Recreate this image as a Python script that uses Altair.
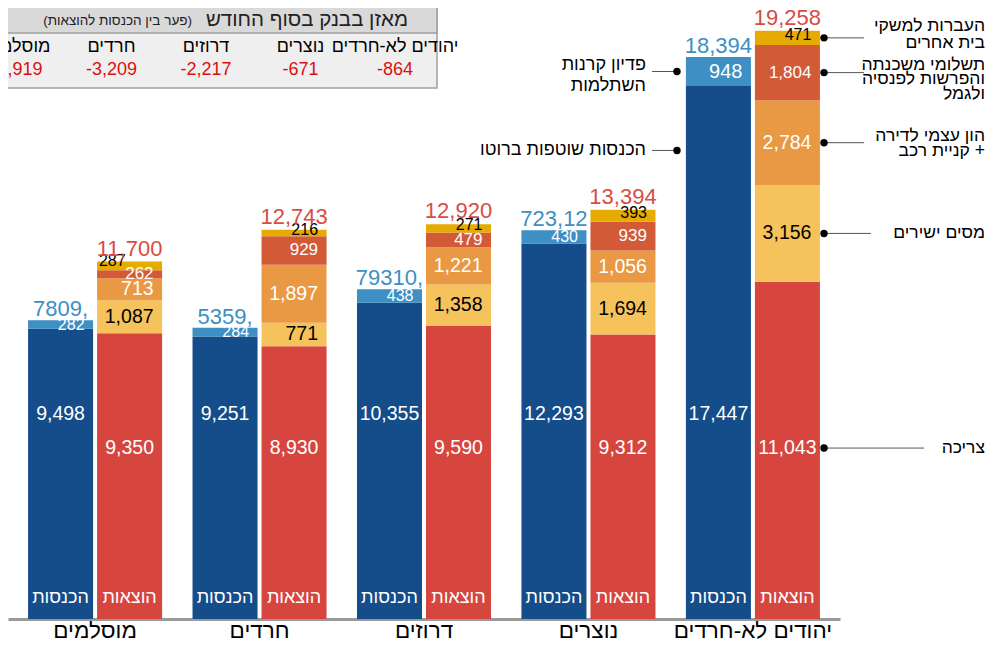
import altair as alt
import pandas as pd

# ---------------- data ----------------
groups = ["מוסלמים", "חרדים", "דרוזים", "נוצרים", "יהודים לא-חרדים"]
sides = ["הכנסות", "הוצאות"]
categories = [
    "הכנסות שוטפות ברוטו",
    "פדיון קרנות השתלמות",
    "צריכה",
    "מסים ישירים",
    "הון עצמי לדירה + קניית רכב",
    "תשלומי משכנתה והפרשות לפנסיה וגמל",
    "העברות למשקי בית אחרים",
]
income_gross = [9498, 9251, 10355, 12293, 17447]
income_funds = [282, 284, 438, 430, 948]
exp_consumption = [9350, 8930, 9590, 9312, 11043]
exp_taxes = [1087, 771, 1358, 1694, 3156]
exp_equity = [713, 1897, 1221, 1056, 2784]
exp_mortgage = [262, 929, 479, 939, 1804]
exp_transfers = [287, 216, 271, 393, 471]
income_total_text = ["7809,", "5359,", "79310,", "723,12", "18,394"]
expense_total_text = ["11,700", "12,743", "12,920", "13,394", "19,258"]
balance_text = ["-1,919", "-3,209", "-2,217", "-671", "-864"]
table_title = "מאזן בבנק בסוף החודש"
table_subtitle = "(פער בין הכנסות להוצאות)"
colors = ["#154c8a", "#3d8fc4", "#d6463f", "#f6c25c", "#e99843", "#d25a37", "#e6ab00"]

series = [
    (0, sides[0], income_gross),
    (1, sides[0], income_funds),
    (2, sides[1], exp_consumption),
    (3, sides[1], exp_taxes),
    (4, sides[1], exp_equity),
    (5, sides[1], exp_mortgage),
    (6, sides[1], exp_transfers),
]
rows = []
for order, side, vals in series:
    for g, v in zip(groups, vals):
        rows.append({"group": g, "side": side, "category": categories[order],
                     "order": order, "value": v, "label": f"{v:,}"})
df = pd.DataFrame(rows)

tot_rows = []
for i, g in enumerate(groups):
    tot_rows.append({"group": g, "side": sides[0],
                     "total": income_gross[i] + income_funds[i], "text": income_total_text[i]})
    tot_rows.append({"group": g, "side": sides[1],
                     "total": exp_consumption[i] + exp_taxes[i] + exp_equity[i] + exp_mortgage[i] + exp_transfers[i],
                     "text": expense_total_text[i]})
totals = pd.DataFrame(tot_rows)

# ---------------- layout ----------------
FONT = "Liberation Sans"
W, H = 832, 611
YS = alt.Scale(domain=[0, 20000], nice=False, zero=True)
XSCALE = alt.Scale(domain=groups, paddingInner=0.185, paddingOuter=0.122)
AXIS = alt.Axis(title=None, labelFontSize=22.5, labelColor="black", labelAngle=0, ticks=False,
                domainColor="#9a9a9a", domainWidth=3, labelPadding=0, labelFont=FONT, grid=False)
BASE_LABEL_Y = {sides[0]: 6720, sides[1]: 5595}   # fixed label heights, value units
SIDE_LABEL_Y = 680


def X():
    return alt.X("group:N", sort=groups, scale=XSCALE, axis=AXIS, title=None)


XO = alt.XOffset("side:N", sort=sides, scale=alt.Scale(domain=sides, paddingInner=0.058, paddingOuter=0))

base = alt.Chart(df).transform_stack(
    stack="value", groupby=["group", "side"], as_=["v0", "v1"],
    sort=[alt.SortField(field="order", order="ascending")],
).transform_calculate(mid="(datum.v0 + datum.v1) / 2")

bars = base.mark_bar().encode(
    x=X(), xOffset=XO,
    y=alt.Y("v0:Q", scale=YS, axis=None), y2="v1:Q",
    color=alt.Color("category:N", scale=alt.Scale(domain=categories, range=colors), legend=None),
)


def seg_labels(filt, color, size, dx=24, dy=0, align="right", yfield="mid"):
    return base.transform_filter(filt).mark_text(
        align=align, baseline="middle", dx=dx, dy=dy, color=color, fontSize=size, font=FONT
    ).encode(x=X(), xOffset=XO, y=alt.Y(yfield + ":Q", scale=YS, axis=None), text="label:N")


muslim = "datum.group === '" + groups[0] + "'"
labels = [
    seg_labels("datum.order === 0", "white", 19.5, dx=0, align="center", yfield="fixy").transform_calculate(
        fixy=str(BASE_LABEL_Y[sides[0]])),
    seg_labels("datum.order === 2", "white", 19.5, dx=0, align="center", yfield="fixy").transform_calculate(
        fixy=str(BASE_LABEL_Y[sides[1]])),
    seg_labels("datum.order === 1 && datum.value < 900", "white", 16),
    seg_labels("datum.order === 1 && datum.value >= 900", "white", 20),
    seg_labels("datum.order === 3", "black", 19.5),
    seg_labels("datum.order === 4", "white", 19.5),
    seg_labels("datum.order === 5", "white", 17),
    seg_labels("datum.order === 6 && !(" + muslim + ")", "black", 16, dy=-3),
    seg_labels("datum.order === 6 && " + muslim, "black", 16, dx=-4, dy=-5),
]

income_totals = alt.Chart(totals).transform_filter(alt.datum.side == sides[0]).mark_text(
    align="center", baseline="alphabetic", dy=-4, fontSize=22, color="#3d8fc4", font=FONT
).encode(x=X(), xOffset=XO, y=alt.Y("total:Q", scale=YS, axis=None), text="text:N")
expense_totals = alt.Chart(totals).transform_filter(alt.datum.side == sides[1]).mark_text(
    align="center", baseline="alphabetic", dy=-6, fontSize=22, color="#d94b45", font=FONT
).encode(x=X(), xOffset=XO, y=alt.Y("total:Q", scale=YS, axis=None), text="text:N")
side_labels = alt.Chart(totals).transform_calculate(side_y=str(SIDE_LABEL_Y)).mark_text(
    align="center", baseline="middle", fontSize=18, color="white", font=FONT
).encode(x=X(), xOffset=XO, y=alt.Y("side_y:Q", scale=YS, axis=None), text="side:N")

# ---------------- annotations ----------------
j = len(groups) - 1
c0 = exp_consumption[j]
c1 = c0 + exp_taxes[j]
c2 = c1 + exp_equity[j]
c3 = c2 + exp_mortgage[j]
c4 = c3 + exp_transfers[j]

# lines, y (value units), rule end (px), line height, first-line offset
right_ann = [
    (["העברות למשקי", "בית אחרים"], (c3 + c4) / 2, 856, 17, -12),
    (["תשלומי משכנתה", "והפרשות לפנסיה", "ולגמל"], (c2 + c3) / 2, 856, 14.5, -8),
    (["הון עצמי לדירה", "קניית רכב +"], (c1 + c2) / 2, 856, 15, -7),
    (["מסים ישירים"], (c0 + c1) / 2, 863, 17, 0),
    (["צריכה"], BASE_LABEL_Y[sides[1]], 916, 17, 0),
]
left_ann = [
    (["פדיון קרנות", "השתלמות"], income_gross[j] + income_funds[j] / 2, 21, -7),
    (["הכנסות שוטפות ברוטו"], 15338, 21, 0),
]

YA = alt.Y("y:Q", scale=YS, axis=None)
ann_layers = []
for lines, yv, xend, lh, dy in right_ann:
    d = pd.DataFrame({"y": [yv]})
    ann_layers.append(alt.Chart(d).mark_rule(color="#555555", strokeWidth=1).encode(
        x=alt.value(816), x2=alt.value(xend), y=YA))
    ann_layers.append(alt.Chart(d).mark_point(filled=True, color="black", size=55, opacity=1).encode(
        x=alt.value(816), y=YA))
    ann_layers.append(alt.Chart(d).mark_text(
        text=lines, align="right", baseline="middle", fontSize=17.5, lineHeight=lh, dy=dy,
        color="black", font=FONT).encode(x=alt.value(977), y=YA))
for lines, yv, lh, dy in left_ann:
    d = pd.DataFrame({"y": [yv]})
    ann_layers.append(alt.Chart(d).mark_rule(color="#555555", strokeWidth=1).encode(
        x=alt.value(644), x2=alt.value(669), y=YA))
    ann_layers.append(alt.Chart(d).mark_point(filled=True, color="black", size=55, opacity=1).encode(
        x=alt.value(669), y=YA))
    ann_layers.append(alt.Chart(d).mark_text(
        text=lines, align="right", baseline="middle", fontSize=18, lineHeight=lh, dy=dy,
        color="black", font=FONT).encode(x=alt.value(638), y=YA))

# ---------------- table ----------------
one = pd.DataFrame({"k": [0]})
table_col_x = [9, 103.5, 198, 292.5, 387]
table_layers = [
    alt.Chart(one).mark_rect(fill="#efefef", stroke="#a0a0a0", strokeWidth=1.5).encode(
        x=alt.value(-30), x2=alt.value(429), y=alt.value(-3), y2=alt.value(80)),
    alt.Chart(one).mark_rect(fill="#d9d9d9", stroke="#a0a0a0", strokeWidth=1.5).encode(
        x=alt.value(-30), x2=alt.value(429), y=alt.value(-3), y2=alt.value(25)),
    alt.Chart(one).mark_text(text=table_title, align="right", baseline="middle", fontSize=20.5,
                             color="#222222", font=FONT).encode(x=alt.value(400), y=alt.value(12)),
    alt.Chart(one).mark_text(text=table_subtitle, align="right", baseline="middle", fontSize=13.5,
                             color="#222222", font=FONT).encode(x=alt.value(184), y=alt.value(13)),
]
for g, b, cx in zip(groups, balance_text, table_col_x):
    table_layers.append(alt.Chart(one).mark_text(text=g, align="center", baseline="middle", fontSize=18,
                                                 color="black", font=FONT).encode(x=alt.value(cx), y=alt.value(39)))
    table_layers.append(alt.Chart(one).mark_text(text=b, align="center", baseline="middle", fontSize=18,
                                                 color="#dc1010", font=FONT).encode(x=alt.value(cx), y=alt.value(62)))

chart = alt.layer(bars, *labels, income_totals, expense_totals, side_labels, *ann_layers,
                  *table_layers).properties(
    width=W, height=H,
    autosize=alt.AutoSizeParams(type="none"),
    padding={"left": 0, "top": 0, "right": 147, "bottom": 22},
    background="white",
).configure_view(stroke=None)

chart.save("out.html", embed_options={"renderer": "svg", "actions": False})
